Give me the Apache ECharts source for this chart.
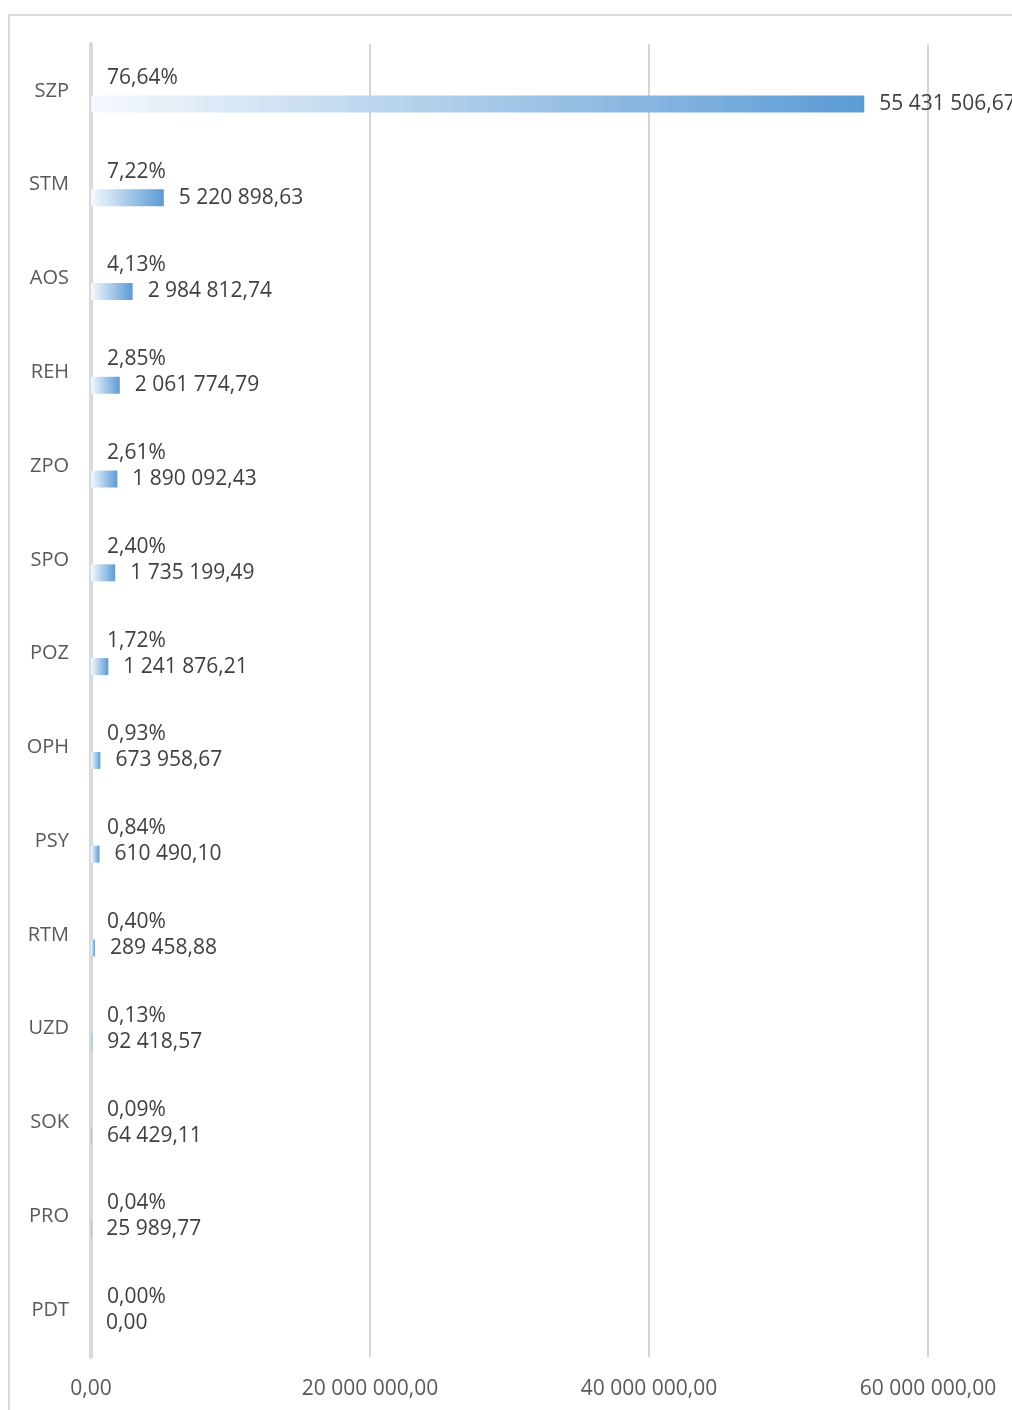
<!DOCTYPE html>
<html>
<head>
<meta charset="utf-8">
<script src="https://cdn.jsdelivr.net/npm/echarts@6/dist/echarts.min.js"></script>
<style>
html, body { margin: 0; padding: 0; background: #fff; overflow: hidden; }
#frame { position: absolute; left: 8px; top: 14px; width: 1200px; height: 1500px; border-left: 2px solid #d9d9d9; border-top: 2px solid #d9d9d9; }
#chart { position: absolute; left: 0; top: 0; width: 1100px; height: 1410px; }
</style>
</head>
<body>
<div id="frame"></div>
<div id="chart"></div>
<script>
var categories = ['SZP', 'STM', 'AOS', 'REH', 'ZPO', 'SPO', 'POZ', 'OPH', 'PSY', 'RTM', 'UZD', 'SOK', 'PRO', 'PDT'];
var amounts = [55431506.67, 5220898.63, 2984812.74, 2061774.79, 1890092.43, 1735199.49, 1241876.21, 673958.67, 610490.10, 289458.88, 92418.57, 64429.11, 25989.77, 0];
var shares = [76.64, 7.22, 4.13, 2.85, 2.61, 2.40, 1.72, 0.93, 0.84, 0.40, 0.13, 0.09, 0.04, 0.00];
var axisTicks = [0, 20000000, 40000000, 60000000];

// 1234567.8 -> "1 234 567,80"
function fmt(n) {
  var parts = n.toFixed(2).split('.');
  var intPart = parts[0].replace(/\B(?=(\d{3})+(?!\d))/g, ' ');
  return intPart + ',' + parts[1];
}

var FONT = '"Open Sans", "Noto Sans", sans-serif';
var chart = echarts.init(document.getElementById('chart'));

chart.setOption({
  animation: false,
  grid: { left: 91, right: 172, top: 44, bottom: 53 },
  xAxis: {
    type: 'value',
    min: axisTicks[0],
    max: axisTicks[axisTicks.length - 1],
    interval: axisTicks[1] - axisTicks[0],
    axisLine: { show: false },
    axisTick: { show: false },
    splitLine: { lineStyle: { color: '#d4d4d4', width: 2 } },
    axisLabel: { color: '#595959', fontFamily: FONT, fontSize: 21, margin: 22, formatter: function (v) { return fmt(v); } }
  },
  yAxis: {
    type: 'category',
    inverse: true,
    data: categories,
    axisLine: { lineStyle: { color: '#d9d9d9', width: 4 } },
    axisTick: { show: false },
    axisLabel: { color: '#595959', fontFamily: FONT, fontSize: 20, margin: 22 }
  },
  series: [
    {
      name: 'udział',
      type: 'bar',
      data: shares,
      barWidth: 17,
      barGap: '53%',
      itemStyle: { color: 'transparent' },
      label: {
        show: true,
        position: 'right',
        distance: 16,
        color: '#404040',
        fontFamily: FONT,
        fontSize: 21,
        formatter: function (p) { return p.value.toFixed(2).replace('.', ',') + '%'; }
      }
    },
    {
      name: 'kwota',
      type: 'bar',
      data: amounts,
      barWidth: 17,
      itemStyle: {
        color: new echarts.graphic.LinearGradient(0, 0, 1, 0, [
          { offset: 0, color: '#f5f9fd' },
          { offset: 1, color: '#5b9bd5' }
        ])
      },
      label: {
        show: true,
        position: 'right',
        distance: 15,
        color: '#404040',
        fontFamily: FONT,
        fontSize: 21,
        formatter: function (p) { return fmt(p.value); }
      }
    }
  ]
});
</script>
</body>
</html>
